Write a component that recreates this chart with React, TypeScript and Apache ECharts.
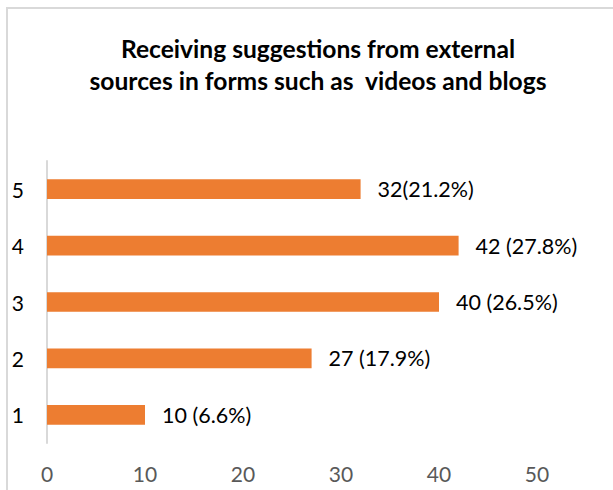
import React, { useEffect, useRef } from "react";
import * as echarts from "echarts";

const categories = ["1", "2", "3", "4", "5"];
const values = [10, 27, 40, 42, 32];
const labels = ["10 (6.6%)", "27 (17.9%)", "40 (26.5%)", "42 (27.8%)", "32(21.2%)"];
const titleLines = ["Receiving suggestions from external", "sources in forms such as  videos and blogs"];

export default function App() {
  const ref = useRef<HTMLDivElement>(null);
  useEffect(() => {
    document.body.style.margin = "0";
    const chart = echarts.init(ref.current!, undefined, { renderer: "svg" });
    const font = "Lato, 'Open Sans', sans-serif";
    chart.setOption({
      animation: false,
      backgroundColor: "#ffffff",
      title: {
        text: titleLines.join("\n"),
        left: 313,
        top: 27,
        textAlign: "center",
        textStyle: { fontFamily: font, fontWeight: "bold", fontSize: 24.6, lineHeight: 32, color: "#000000" },
      },
      graphic: [
        {
          type: "rect",
          shape: { x: 7, y: 8, width: 700, height: 600 },
          style: { fill: "none", stroke: "#d9d9d9", lineWidth: 2 },
          silent: true,
        },
      ],
      grid: { left: 47, right: 76, top: 161, bottom: 47, containLabel: false },
      xAxis: {
        type: "value",
        min: 0,
        max: 50,
        interval: 10,
        axisLine: { show: false },
        axisTick: { show: false },
        splitLine: { show: false },
        axisLabel: { color: "#595959", fontFamily: font, fontSize: 21, margin: 20 },
      },
      yAxis: {
        type: "category",
        data: categories,
        axisLine: { show: true, lineStyle: { color: "#d9d9d9", width: 2 } },
        axisTick: { show: false },
        axisLabel: { color: "#000000", fontFamily: font, fontSize: 21, margin: 23 },
      },
      series: [
        {
          type: "bar",
          data: values,
          barCategoryGap: "65%",
          itemStyle: { color: "#ed7d31" },
          label: {
            show: true,
            position: "right",
            distance: 17,
            color: "#000000",
            fontFamily: font,
            fontSize: 21.5,
            formatter: (p: any) => labels[p.dataIndex],
          },
        },
      ],
    });
    return () => chart.dispose();
  }, []);
  return <div ref={ref} style={{ width: 613, height: 490 }} />;
}
